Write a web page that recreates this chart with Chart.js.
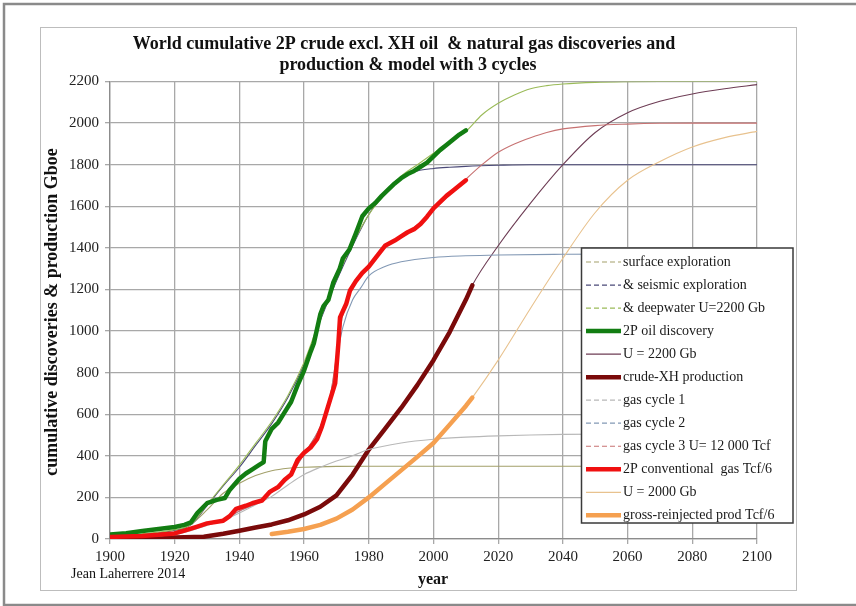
<!DOCTYPE html>
<html>
<head>
<meta charset="utf-8">
<script src="https://cdn.jsdelivr.net/npm/chart.js@4.4.1/dist/chart.umd.min.js"></script>
<style>
  body { margin: 0; background: #fff; }
  #wrap { position: relative; width: 856px; height: 606px; }
</style>
</head>
<body>
<div id="wrap"><canvas id="chart"></canvas></div>
<script>
// values (Gboe, gas in Tcf/6)
const oilDiscYears = [1900,1905,1910,1915,1920,1923,1925,1927,1930,1933,1935.5,1937,1940,1942,1944,1946,1947.5,1948,1950,1952,1954,1956,1958,1960,1962,1963,1965,1966,1967.5,1969,1971,1972,1974,1976,1978,1980,1982,1984,1986,1988,1990,1992,1994,1996,1998,2000,2002,2004,2006,2008,2010];
const oilDiscValues = [22,28,38,48,58,68,80,125,172,188,197,236,290,315,335,355,370,470,530,560,610,660,740,810,900,940,1080,1120,1150,1232,1300,1350,1392,1470,1552,1590,1616,1650,1680,1710,1735,1755,1770,1790,1810,1840,1870,1895,1920,1945,1965];

const oilSurfaceYears = [1900,1910,1920,1925,1930,1935,1940,1945,1950,1955,1960,1970,1980,2000,2020,2040,2060,2080,2100];
const oilSurfaceValues = [8,15,35,70,140,220,268,305,328,340,345,349,350,350,350,350,350,350,350];

const oilSeismicYears = [1900,1910,1920,1925,1930,1935,1940,1945,1950,1955,1960,1965,1970,1975,1980,1985,1990,1995,2000,2005,2010,2020,2030,2040,2060,2080,2100];
const oilSeismicValues = [12,22,42,68,160,255,345,450,555,680,840,1050,1240,1410,1560,1670,1740,1770,1782,1788,1792,1797,1800,1800,1800,1800,1800];

const oilDeepYears = [1900,1910,1920,1925,1930,1935,1940,1945,1950,1955,1960,1965,1970,1975,1980,1985,1990,1995,2000,2005,2010,2015,2020,2025,2030,2035,2040,2050,2060,2070,2080,2090,2100];
const oilDeepValues = [15,25,45,70,165,260,355,460,565,690,850,1060,1250,1420,1560,1660,1745,1800,1855,1910,1960,2040,2095,2135,2165,2180,2188,2196,2199,2200,2200,2200,2200];

const crudeYears = [1900,1910,1920,1929,1935,1940,1945,1950,1955,1960,1965,1970,1975,1980,1985,1990,1995,2000,2005,2010,2012];
const crudeValues = [2,4,7,11,25,40,55,70,90,118,155,210,310,430,530,630,740,860,995,1150,1220];

const crudeModelYears = [1990,2000,2010,2012,2020,2030,2040,2050,2060,2070,2080,2090,2100];
const crudeModelValues = [630,860,1150,1220,1410,1615,1800,1955,2050,2105,2140,2165,2185];

const gasDiscYears = [1900,1910,1915,1920,1923,1927,1930,1935,1937,1939,1942,1944,1947,1949.5,1952,1954,1956,1958,1960,1962,1964,1965.5,1968,1969.6,1970.6,1971.1,1973,1974.2,1976,1978,1980,1983,1985,1988,1990,1992,1994,1996,1998,2000,2002,2004,2006,2008,2010];
const gasDiscValues = [10,15,20,27,40,60,75,88,110,145,160,172,185,228,250,285,310,380,415,440,480,540,668,749,941,1065,1130,1195,1240,1280,1310,1370,1410,1435,1455,1475,1490,1515,1550,1590,1620,1650,1675,1700,1725];

const gasCycle1Years = [1900,1910,1920,1925,1930,1935,1940,1945,1950,1955,1960,1965,1970,1975,1980,1990,2000,2010,2020,2030,2040,2060,2080,2100];
const gasCycle1Values = [8,12,22,40,65,90,125,165,205,260,310,345,375,400,430,462,480,490,496,500,503,505,505,505];

const gasCycle2Years = [1900,1910,1920,1925,1930,1935,1940,1945,1950,1955,1960,1965,1968,1970,1972,1975,1977.4,1980,1985,1990,2000,2010,2020,2040,2060,2080,2100];
const gasCycle2Values = [10,15,25,45,70,90,135,170,225,290,410,540,680,860,1020,1150,1205,1265,1310,1333,1354,1362,1366,1369,1370,1370,1370];

const gasCycle3Years = [1900,1910,1920,1925,1930,1935,1940,1945,1950,1955,1960,1965,1968,1970,1972,1975,1980,1985,1990,1995,2000,2005,2010,2015,2020,2025,2030,2035,2040,2050,2060,2070,2080,2090,2100];
const gasCycle3Values = [10,15,25,45,70,90,135,170,225,290,410,540,680,880,1080,1210,1315,1405,1455,1510,1585,1655,1730,1800,1860,1900,1930,1955,1972,1988,1995,1999,2000,2000,2000];

const gasProdYears = [1950,1955,1960,1965,1970,1975,1980,1985,1990,1995,2000,2005,2010,2012];
const gasProdValues = [24,35,48,68,98,142,200,265,330,395,462,550,640,680];

const gasModelYears = [1950,1960,1970,1980,1990,2000,2010,2012,2020,2030,2040,2050,2060,2070,2080,2090,2100];
const gasModelValues = [22,46,96,198,330,462,640,680,860,1110,1350,1570,1725,1815,1885,1930,1960];

const yearTicks = { min: 1900, max: 2100, step: 20 };
const valueTicks = { min: 0, max: 2200, step: 200 };

const titleLines = [
  'World cumulative 2P crude excl. XH oil  & natural gas discoveries and',
  'production & model with 3 cycles'
];

function pts(xs, ys) {
  return xs.map((x, i) => ({ x: x, y: ys[i] }));
}

const SERIF = '"Liberation Serif", "Times New Roman", serif';

function thin(label, xs, ys, color, dashed) {
  return {
    label: label,
    data: pts(xs, ys),
    borderColor: color,
    borderWidth: 1.1,
    pointRadius: 0,
    cubicInterpolationMode: 'monotone',
    legendDash: dashed ? [5, 3] : [],
    legendWidth: 1.2
  };
}

function thick(label, xs, ys, color) {
  return {
    label: label,
    data: pts(xs, ys),
    borderColor: color,
    borderWidth: 4.5,
    pointRadius: 0,
    tension: 0,
    borderJoinStyle: 'round',
    borderCapStyle: 'round',
    legendDash: [],
    legendWidth: 4.5
  };
}

const datasets = [
  thin('surface exploration', oilSurfaceYears, oilSurfaceValues, '#a3a06a', true),
  thin('& seismic exploration', oilSeismicYears, oilSeismicValues, '#4b4a78', true),
  thin('& deepwater U=2200 Gb', oilDeepYears, oilDeepValues, '#9bbb59', true),
  thick('2P oil discovery', oilDiscYears, oilDiscValues, '#127d12'),
  thin('U = 2200 Gb', crudeModelYears, crudeModelValues, '#6e3d55', false),
  thick('crude-XH production', crudeYears, crudeValues, '#7a0a0a'),
  thin('gas cycle 1', gasCycle1Years, gasCycle1Values, '#b8b8b8', true),
  thin('gas cycle 2', gasCycle2Years, gasCycle2Values, '#8399b5', true),
  thin('gas cycle 3 U= 12 000 Tcf', gasCycle3Years, gasCycle3Values, '#c77272', true),
  thick('2P conventional  gas Tcf/6', gasDiscYears, gasDiscValues, '#f01010'),
  thin('U = 2000 Gb', gasModelYears, gasModelValues, '#e8c28e', false),
  thick('gross-reinjected prod Tcf/6', gasProdYears, gasProdValues, '#f5a050')
];
// later series drawn on top, as in the spreadsheet
datasets.forEach((d, i) => { d.order = datasets.length - i; });

const framePlugin = {
  id: 'frame',
  beforeDraw(chart) {
    const ctx = chart.ctx;
    ctx.save();
    ctx.fillStyle = '#fff';
    ctx.fillRect(0, 0, chart.width, chart.height);
    ctx.strokeStyle = '#bdbdbd';
    ctx.lineWidth = 1;
    ctx.strokeRect(40.5, 27.5, 756, 563);
    ctx.strokeStyle = '#8a8a8a';
    ctx.lineWidth = 2.5;
    ctx.strokeRect(4, 4, 880, 601);
    ctx.restore();
  },
  afterDraw(chart) {
    const ctx = chart.ctx;
    ctx.save();
    ctx.fillStyle = '#111';
    ctx.textAlign = 'center';
    ctx.textBaseline = 'middle';
    ctx.font = 'bold 18px ' + SERIF;
    ctx.fillText(titleLines[0], 404, 44);
    ctx.fillText(titleLines[1], 408, 65);

    ctx.save();
    ctx.translate(52, 312);
    ctx.rotate(-Math.PI / 2);
    ctx.fillText('cumulative discoveries & production Gboe', 0, 0);
    ctx.restore();

    ctx.font = 'bold 16px ' + SERIF;
    ctx.fillText('year', 433, 580);
    ctx.font = '14px ' + SERIF;
    ctx.textAlign = 'left';
    ctx.fillText('Jean Laherrere 2014', 71, 574);

    // legend box
    const bx = 581.5, by = 248, bw = 211.5, bh = 275;
    ctx.fillStyle = '#fff';
    ctx.fillRect(bx, by, bw, bh);
    ctx.strokeStyle = '#3a3a3a';
    ctx.lineWidth = 1.5;
    ctx.strokeRect(bx, by, bw, bh);
    ctx.font = '14px ' + SERIF;
    ctx.textBaseline = 'middle';
    chart.data.datasets.forEach((d, i) => {
      const y = 262 + i * 23.03;
      ctx.beginPath();
      ctx.setLineDash(d.legendDash);
      ctx.strokeStyle = d.borderColor;
      ctx.lineWidth = d.legendWidth;
      ctx.moveTo(586, y);
      ctx.lineTo(621, y);
      ctx.stroke();
      ctx.setLineDash([]);
      ctx.fillStyle = '#1a1a1a';
      ctx.fillText(d.label, 623, y);
    });
    ctx.restore();
  }
};

const tickFont = { family: SERIF, size: 15 };

new Chart(document.getElementById('chart'), {
  type: 'line',
  data: { datasets: datasets },
  options: {
    responsive: true,
    maintainAspectRatio: false,
    animation: false,
    devicePixelRatio: 1,
    layout: { autoPadding: false, padding: { left: 40, top: 81.5, right: 99, bottom: 17 } },
    plugins: {
      legend: { display: false },
      title: { display: false },
      tooltip: { enabled: false }
    },
    scales: {
      x: {
        type: 'linear',
        min: yearTicks.min,
        max: yearTicks.max,
        afterFit: s => { s.height = 50; },
        ticks: {
          stepSize: yearTicks.step,
          font: tickFont,
          color: '#222',
          padding: 4,
          maxRotation: 0,
          callback: v => String(v)
        },
        grid: { color: '#a8a8a8', lineWidth: 1.3, tickLength: 5 },
        border: { color: '#8c8c8c', width: 1.3 }
      },
      y: {
        min: valueTicks.min,
        max: valueTicks.max,
        afterFit: s => { s.width = 70; },
        ticks: {
          stepSize: valueTicks.step,
          font: tickFont,
          color: '#222',
          padding: 6,
          callback: v => String(v)
        },
        grid: { color: '#a8a8a8', lineWidth: 1.3, tickLength: 5 },
        border: { color: '#8c8c8c', width: 1.3 }
      }
    }
  },
  plugins: [framePlugin]
});
</script>
</body>
</html>
